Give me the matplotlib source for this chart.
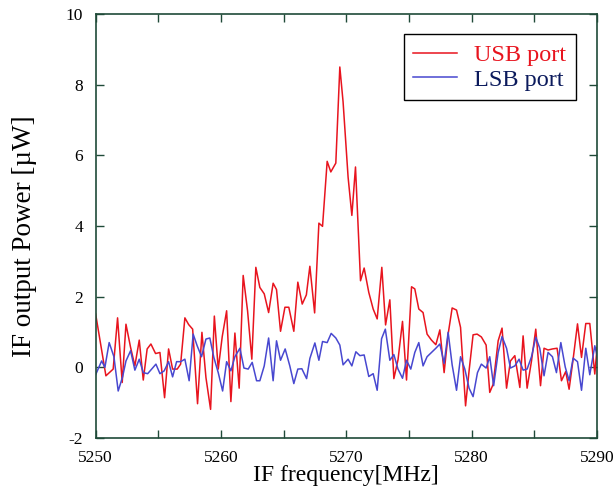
import matplotlib
matplotlib.use("Agg")
import matplotlib.pyplot as plt
from matplotlib.ticker import MultipleLocator, FuncFormatter

plt.rcParams['font.family'] = ['Liberation Serif', 'DejaVu Serif']
plt.rcParams['axes.unicode_minus'] = False

# USB port trace (frequency in MHz, power in uW)
usb_freq = [5250.00, 5250.82, 5251.40, 5251.75, 5252.12, 5252.42, 5252.79, 5253.13,
            5253.48, 5253.80, 5254.11, 5254.41, 5254.78, 5255.13, 5255.50, 5255.82,
            5256.14, 5256.51, 5256.78, 5257.12, 5257.42, 5257.74, 5258.13, 5258.48,
            5258.80, 5259.17, 5259.47, 5259.78, 5260.10, 5260.45, 5260.79, 5261.11,
            5261.45, 5261.77, 5262.12, 5262.46, 5262.78, 5263.10, 5263.45, 5263.80,
            5264.16, 5264.43, 5264.75, 5265.10, 5265.41, 5265.81, 5266.13, 5266.48,
            5266.81, 5267.09, 5267.47, 5267.81, 5268.10, 5268.47, 5268.76, 5269.16,
            5269.48, 5269.74, 5270.14, 5270.44, 5270.73, 5271.13, 5271.42, 5271.79,
            5272.14, 5272.46, 5272.83, 5273.13, 5273.47, 5273.79, 5274.12, 5274.48,
            5274.80, 5275.20, 5275.46, 5275.78, 5276.12, 5276.44, 5276.79, 5277.14,
            5277.46, 5277.80, 5278.12, 5278.44, 5278.79, 5279.11, 5279.51, 5279.79,
            5280.11, 5280.43, 5280.77, 5281.15, 5281.44, 5281.71, 5282.11, 5282.42,
            5282.78, 5283.09, 5283.44, 5283.84, 5284.10, 5284.42, 5284.77, 5285.11,
            5285.49, 5285.77, 5286.09, 5286.44, 5286.81, 5287.16, 5287.50, 5287.77,
            5288.09, 5288.44, 5288.76, 5289.10, 5289.42, 5289.82, 5290.00]
usb_power = [1.51, -0.24, -0.05, 1.40, -0.43, 1.22, 0.56, 0.04,
             0.77, -0.36, 0.52, 0.66, 0.39, 0.42, -0.86, 0.52,
             -0.05, -0.05, 0.09, 1.40, 1.21, 1.08, -1.03, 0.99,
             -0.29, -1.19, 1.45, -0.05, 0.87, 1.60, -0.97, 0.97,
             -0.59, 2.60, 1.60, 0.23, 2.83, 2.26, 2.08, 1.55,
             2.38, 2.20, 1.02, 1.70, 1.70, 1.02, 2.41, 1.79,
             2.05, 2.86, 1.54, 4.08, 3.99, 5.83, 5.53, 5.78,
             8.50, 7.51, 5.38, 4.30, 5.67, 2.45, 2.81, 2.12,
             1.65, 1.37, 2.83, 1.20, 1.91, -0.32, 0.21, 1.30,
             -0.36, 2.28, 2.22, 1.65, 1.55, 0.94, 0.77, 0.64,
             1.06, -0.15, 0.94, 1.68, 1.62, 1.13, -1.09, -0.10,
             0.92, 0.94, 0.86, 0.63, -0.71, -0.48, 0.75, 1.11,
             -0.59, 0.18, 0.33, -0.57, 0.89, -0.59, 0.18, 1.08,
             -0.52, 0.54, 0.49, 0.52, 0.54, -0.38, -0.12, -0.62,
             0.23, 1.23, 0.28, 1.24, 1.24, -0.19, 0.56]

# LSB port trace
lsb_freq = [5250.00, 5250.48, 5250.74, 5251.08, 5251.46, 5251.80, 5252.15, 5252.42,
            5252.79, 5253.13, 5253.48, 5253.80, 5254.15, 5254.47, 5254.81, 5255.13,
            5255.47, 5255.82, 5256.14, 5256.46, 5256.78, 5257.12, 5257.46, 5257.78,
            5258.10, 5258.45, 5258.80, 5259.11, 5259.43, 5259.78, 5260.13, 5260.45,
            5260.79, 5261.11, 5261.51, 5261.83, 5262.17, 5262.49, 5262.84, 5263.10,
            5263.45, 5263.80, 5264.16, 5264.43, 5264.75, 5265.12, 5265.49, 5265.81,
            5266.13, 5266.45, 5266.83, 5267.09, 5267.49, 5267.81, 5268.10, 5268.47,
            5268.79, 5269.16, 5269.48, 5269.74, 5270.14, 5270.44, 5270.76, 5271.08,
            5271.42, 5271.79, 5272.14, 5272.46, 5272.81, 5273.11, 5273.47, 5273.79,
            5274.12, 5274.48, 5274.80, 5275.14, 5275.46, 5275.78, 5276.12, 5276.44,
            5276.79, 5277.14, 5277.46, 5277.80, 5278.12, 5278.44, 5278.79, 5279.11,
            5279.45, 5279.79, 5280.11, 5280.46, 5280.77, 5281.15, 5281.44, 5281.75,
            5282.11, 5282.42, 5282.78, 5283.09, 5283.44, 5283.78, 5284.10, 5284.42,
            5284.77, 5285.11, 5285.43, 5285.77, 5286.09, 5286.44, 5286.76, 5287.11,
            5287.46, 5287.77, 5288.09, 5288.44, 5288.76, 5289.10, 5289.42, 5289.82,
            5290.00]
lsb_power = [-0.21, 0.18, 0.00, 0.70, 0.30, -0.67, -0.27, 0.18,
             0.47, -0.08, 0.23, -0.15, -0.18, -0.05, 0.09, -0.18,
             -0.10, 0.16, -0.27, 0.16, 0.16, 0.23, -0.38, 0.94,
             0.61, 0.30, 0.80, 0.83, 0.28, -0.15, -0.67, 0.16,
             -0.10, 0.30, 0.54, -0.02, -0.05, 0.14, -0.38, -0.38,
             0.04, 0.83, -0.38, 0.75, 0.20, 0.52, 0.04, -0.46,
             -0.05, -0.04, -0.32, 0.25, 0.69, 0.20, 0.73, 0.70,
             0.96, 0.83, 0.63, 0.07, 0.23, 0.04, 0.44, 0.33,
             0.35, -0.26, -0.18, -0.65, 0.81, 1.08, 0.20, 0.36,
             -0.05, -0.31, 0.20, -0.05, 0.42, 0.70, 0.04, 0.30,
             0.42, 0.54, 0.66, 0.11, 0.99, 0.07, -0.65, 0.30,
             -0.05, -0.59, -0.83, -0.15, 0.09, -0.02, 0.30, -0.52,
             0.42, 0.87, 0.54, -0.02, 0.04, 0.23, -0.08, -0.05,
             0.30, 0.85, 0.54, -0.24, 0.42, 0.30, -0.15, 0.70,
             0.01, -0.38, 0.26, 0.16, -0.65, 0.54, -0.21, 0.61,
             0.33]

axis_color = '#1f4a38'

fig = plt.figure(figsize=(6.13, 4.93), dpi=100)
ax = fig.add_axes([0.156, 0.1116, 0.818, 0.86])

ax.plot(usb_freq, usb_power, color='#e8141e', lw=1.1, label='USB port')
ax.plot(lsb_freq, lsb_power, color='#4848d0', lw=1.1, label='LSB port')

ax.set_xlim(5250, 5290)
ax.set_ylim(-2, 10)
ax.xaxis.set_major_locator(MultipleLocator(5))
ax.xaxis.set_major_formatter(FuncFormatter(lambda v, p: f"{v:.0f}" if round(v) % 10 == 0 else ""))
ax.yaxis.set_major_locator(MultipleLocator(2))

for s in ax.spines.values():
    s.set_color(axis_color)
    s.set_linewidth(1.2)
ax.tick_params(direction='in', length=6, width=1.0, color=axis_color,
               top=True, right=True, labelsize=12.5)
ax.tick_params(axis='y', pad=9)
ax.tick_params(axis='x', pad=9)

ax.set_xlabel('IF frequency[MHz]', fontsize=17, labelpad=-1)
ax.set_ylabel('IF output Power [µW]', fontsize=19.5)
ax.yaxis.set_label_coords(-0.117, 0.476)

leg = ax.legend(loc='upper right', bbox_to_anchor=(0.958, 0.952), fontsize=17.5,
                handlelength=1.8, fancybox=False, framealpha=1, borderpad=0.4,
                labelspacing=0.1, handletextpad=0.7, borderaxespad=0,
                labelcolor=['#e8141e', '#0b1a5c'])
leg.get_frame().set_edgecolor('black')
leg.get_frame().set_linewidth(1.0)

fig.savefig('out.png', dpi=100)
